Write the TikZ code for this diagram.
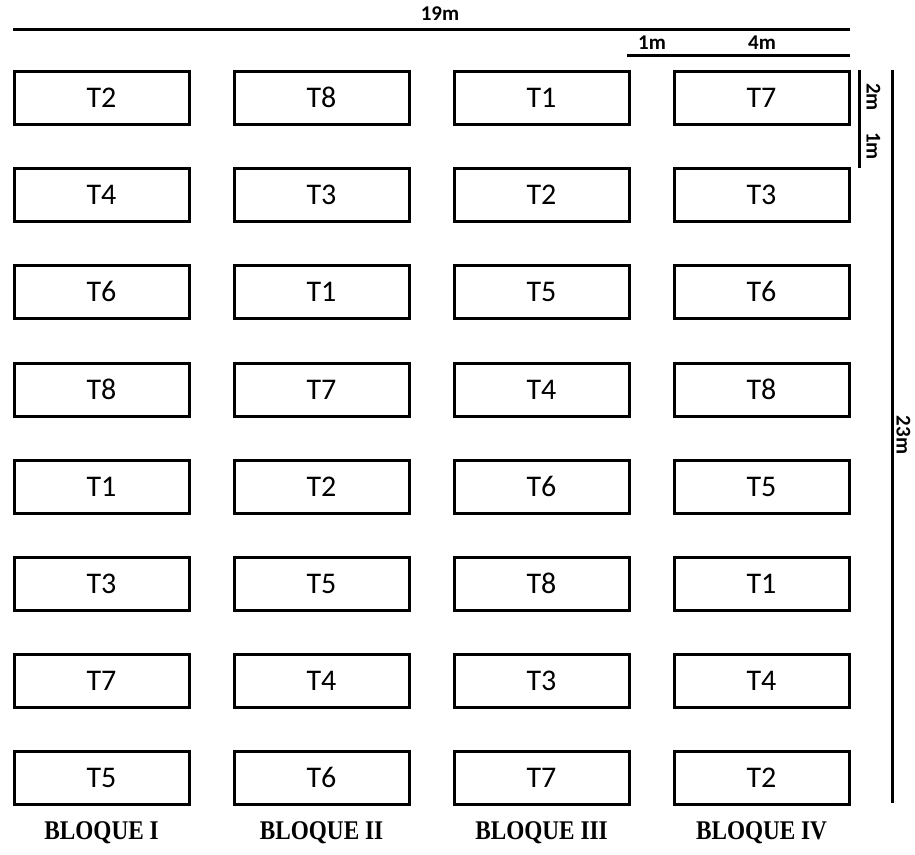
\documentclass[tikz,border=0pt]{standalone}
\usepackage{fontspec}
\setmainfont{Carlito}
\newfontfamily\bloquefont[FakeStretch=0.86]{Liberation Serif}
\usepackage{tikz}
\usetikzlibrary{calc,positioning}

\begin{document}
\begin{tikzpicture}[
      x=1pt, y=-1pt,
      parcela/.style={rectangle, draw=black, line width=3pt, minimum width=175pt,
        minimum height=53pt, inner sep=0pt, text height=19pt, text depth=0pt,
        font=\fontsize{30}{32}\selectfont},
      bloque/.style={font=\bloquefont\bfseries\fontsize{27}{29}\selectfont, inner sep=0pt},
      cota/.style={draw=black, line width=3pt},
      medida/.style={font=\bfseries\fontsize{21}{23}\selectfont, inner sep=0pt,
        text height=13pt, text depth=0pt},
    ]

    \useasboundingbox (0,0) rectangle (915,854);

    \node[parcela] (a1) at (101.5,98)   {T2};
    \node[parcela] (b1) at (321.5,98)   {T8};
    \node[parcela] (c1) at (541.5,98)   {T1};
    \node[parcela] (d1) at (761.5,98)   {T7};
    \node[parcela] (a2) at (101.5,195)  {T4};
    \node[parcela] (b2) at (321.5,195)  {T3};
    \node[parcela] (c2) at (541.5,195)  {T2};
    \node[parcela] (d2) at (761.5,195)  {T3};
    \node[parcela] (a3) at (101.5,292)  {T6};
    \node[parcela] (b3) at (321.5,292)  {T1};
    \node[parcela] (c3) at (541.5,292)  {T5};
    \node[parcela] (d3) at (761.5,292)  {T6};
    \node[parcela] (a4) at (101.5,389.5){T8};
    \node[parcela] (b4) at (321.5,389.5){T7};
    \node[parcela] (c4) at (541.5,389.5){T4};
    \node[parcela] (d4) at (761.5,389.5){T8};
    \node[parcela] (a5) at (101.5,486.5){T1};
    \node[parcela] (b5) at (321.5,486.5){T2};
    \node[parcela] (c5) at (541.5,486.5){T6};
    \node[parcela] (d5) at (761.5,486.5){T5};
    \node[parcela] (a6) at (101.5,584)  {T3};
    \node[parcela] (b6) at (321.5,584)  {T5};
    \node[parcela] (c6) at (541.5,584)  {T8};
    \node[parcela] (d6) at (761.5,584)  {T1};
    \node[parcela] (a7) at (101.5,681)  {T7};
    \node[parcela] (b7) at (321.5,681)  {T4};
    \node[parcela] (c7) at (541.5,681)  {T3};
    \node[parcela] (d7) at (761.5,681)  {T4};
    \node[parcela] (a8) at (101.5,778)  {T5};
    \node[parcela] (b8) at (321.5,778)  {T6};
    \node[parcela] (c8) at (541.5,778)  {T7};
    \node[parcela] (d8) at (761.5,778)  {T2};

    \node[bloque] (bI)   at (101.5,833) {BLOQUE I};
    \node[bloque] (bII)  at (321.5,833) {BLOQUE II};
    \node[bloque] (bIII) at (541.5,833) {BLOQUE III};
    \node[bloque] (bIV)  at (761.5,833) {BLOQUE IV};

    \coordinate (anchoI)  at (13,29);
    \coordinate (anchoD)  at (850,29);
    \coordinate (calleI)  at (627,55);
    \coordinate (calleD)  at (850,55);
    \coordinate (altoS)   at (859,70);
    \coordinate (altoI)   at (859,168);
    \coordinate (largoS)  at (892,70);
    \coordinate (largoI)  at (892,803);

    \draw[cota] (anchoI) -- (anchoD);
    \draw[cota] (calleI) -- (calleD);
    \draw[cota] (altoS) -- (altoI);
    \draw[cota] (largoS) -- (largoI);

    \node[medida] (m19) at (440,14)  {19m};
    \node[medida] (m1)  at (652,43)  {1m};
    \node[medida] (m4)  at (762,43)  {4m};
    \node[medida, rotate=-90] (m2v) at (873,97)  {2m};
    \node[medida, rotate=-90] (m1v) at (873,146) {1m};
    \node[medida, rotate=-90] (m23) at (903,435) {23m};

  \end{tikzpicture}
\end{document}
